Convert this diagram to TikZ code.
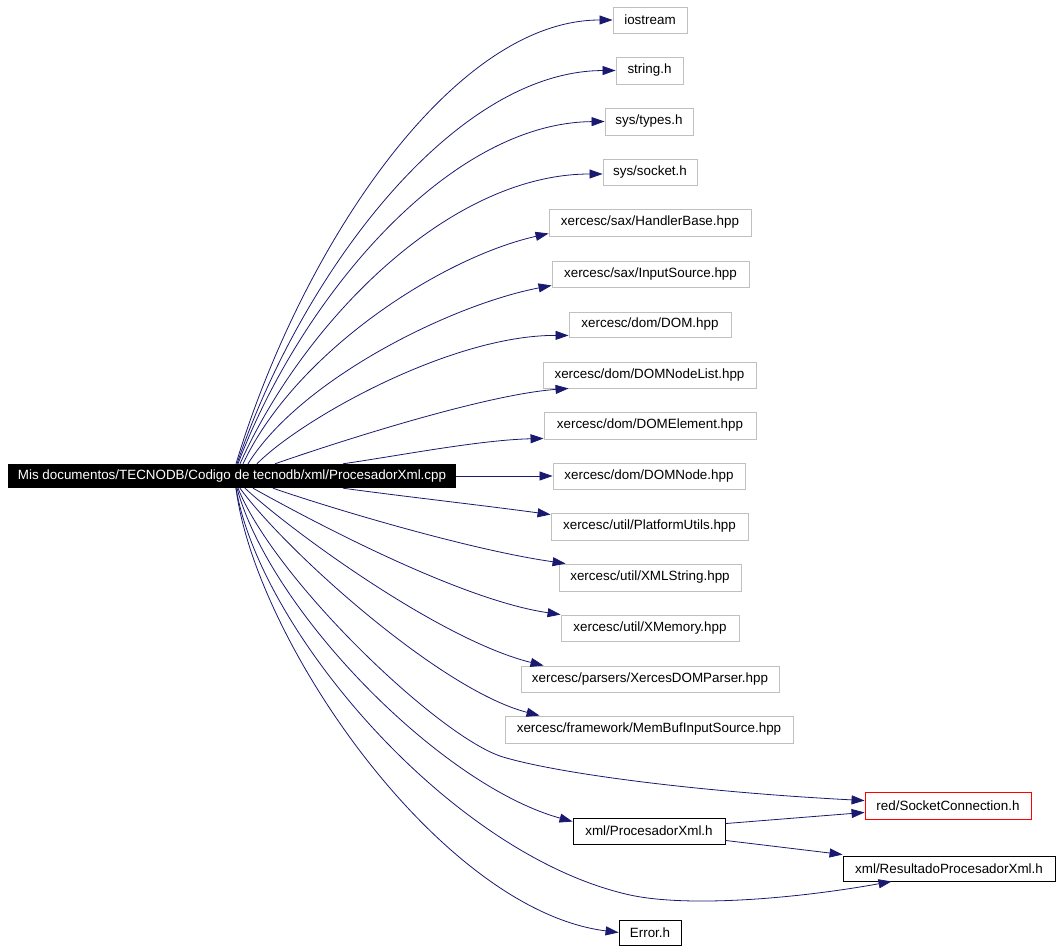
\documentclass[tikz,border=0pt]{standalone}
\usepackage{fontspec}
\setmainfont{Liberation Sans}
\usetikzlibrary{arrows.meta}
\definecolor{edgeblue}{HTML}{191970}
\definecolor{boxgray}{HTML}{C0C0C0}
\tikzset{
  hdr/.style={draw=boxgray, line width=0.9pt, fill=white, inner sep=0pt, align=center, font=\fontsize{13.4}{15}\selectfont},
  hdrblack/.style={hdr, draw=black},
  hdrred/.style={hdr, draw=red},
  mainbox/.style={fill=black, text=white, inner sep=0pt, minimum width=448pt, minimum height=24pt, font=\fontsize{13.4}{15}\selectfont},
  dep/.style={draw=edgeblue, line width=0.8pt, -{Triangle[length=13pt,width=9pt]}},
}
\begin{document}
\begin{tikzpicture}[x=1pt,y=-1pt]
\useasboundingbox (0,0) rectangle (1061,952);
\node[mainbox] (main) at (232,476) {Mis documentos/TECNODB/Codigo de tecnodb/xml/ProcesadorXml.cpp};
\node[hdr, minimum width=74pt, minimum height=26pt] (ios) at (650,20) {iostream};
\node[hdr, minimum width=67pt, minimum height=27pt] (str) at (649.5,70.5) {string.h};
\node[hdr, minimum width=88pt, minimum height=27pt] (typ) at (649,121.5) {sys/types.h};
\node[hdr, minimum width=94pt, minimum height=26pt] (sock) at (650,172) {sys/socket.h};
\node[hdr, minimum width=202pt, minimum height=27pt] (hb) at (650,222.5) {xercesc/sax/HandlerBase.hpp};
\node[hdr, minimum width=197pt, minimum height=26pt] (is) at (650.5,274) {xercesc/sax/InputSource.hpp};
\node[hdr, minimum width=162pt, minimum height=25pt] (dom) at (650,324.5) {xercesc/dom/DOM.hpp};
\node[hdr, minimum width=213pt, minimum height=26pt] (nl) at (649.5,375) {xercesc/dom/DOMNodeList.hpp};
\node[hdr, minimum width=212pt, minimum height=27pt] (de) at (650,425.5) {xercesc/dom/DOMElement.hpp};
\node[hdr, minimum width=192pt, minimum height=26pt] (dn) at (649,476) {xercesc/dom/DOMNode.hpp};
\node[hdr, minimum width=197pt, minimum height=27pt] (pu) at (649.5,526.5) {xercesc/util/PlatformUtils.hpp};
\node[hdr, minimum width=182pt, minimum height=27pt] (xs) at (650,577.5) {xercesc/util/XMLString.hpp};
\node[hdr, minimum width=178pt, minimum height=26pt] (xm) at (650,628) {xercesc/util/XMemory.hpp};
\node[hdr, minimum width=258pt, minimum height=26pt] (xp) at (650,679) {xercesc/parsers/XercesDOMParser.hpp};
\node[hdr, minimum width=288pt, minimum height=27pt] (mb) at (649,729.5) {xercesc/framework/MemBufInputSource.hpp};
\node[hdrred, minimum width=166pt, minimum height=27pt] (sc) at (948,805.5) {red/SocketConnection.h};
\node[hdrblack, minimum width=152pt, minimum height=26pt] (px) at (649,831) {xml/ProcesadorXml.h};
\node[hdrblack, minimum width=212pt, minimum height=25pt] (rx) at (949,868.5) {xml/ResultadoProcesadorXml.h};
\node[hdrblack, minimum width=62pt, minimum height=25pt] (er) at (650,932.5) {Error.h};
% upper fan
\draw[dep] ([xshift=4]main.north) .. controls (300,251) and (451,20) .. (ios.west);
\draw[dep] ([xshift=5]main.north) .. controls (301,275) and (453,71) .. (str.west);
\draw[dep] ([xshift=6]main.north) .. controls (300,300) and (447,123) .. (typ.west);
\draw[dep] ([xshift=8]main.north) .. controls (302,325) and (447,174) .. ([yshift=-2]sock.west);
\draw[dep] ([xshift=11]main.north) .. controls (295,353) and (440,258) .. ([yshift=3]hb.south west);
\draw[dep] ([xshift=16]main.north) .. controls (300,380) and (450,305) .. ([yshift=2]is.south west);
\draw[dep] ([xshift=25]main.north) .. controls (300,420) and (450,335) .. ([yshift=2]dom.south west);
\draw[dep] ([xshift=43]main.north) .. controls (320,448) and (480,395) .. ([xshift=26]nl.south west);
\draw[dep] ([xshift=111]main.north) .. controls (403,455) and (480,440) .. ([yshift=1]de.south west);
\draw[dep] (main.east) -- (dn.west);
% lower fan
\draw[dep] ([xshift=111]main.south) .. controls (400,496) and (480,505) .. ([yshift=-2]pu.north west);
\draw[dep] ([xshift=41]main.south) .. controls (330,508) and (470,550) .. ([xshift=7]xs.north west);
\draw[dep] ([xshift=21]main.south) .. controls (310,520) and (460,600) .. (xm.north west);
\draw[dep] ([xshift=13]main.south) .. controls (290,530) and (440,640) .. ([xshift=23]xp.north west);
\draw[dep] ([xshift=8]main.south) .. controls (285,550) and (440,690) .. ([xshift=35]mb.north west);
\draw[dep] ([xshift=6]main.south) .. controls (275,580) and (440,738) .. (503,757) .. controls (560,774) and (700,792) .. ([yshift=-9]sc.north west);
\draw[dep] ([xshift=5]main.south) .. controls (270,610) and (440,785) .. ([yshift=-4]px.north west);
\draw[dep] ([xshift=4]main.south) .. controls (260,630) and (450,855) .. (630,895) .. controls (690,908) and (800,898) .. ([xshift=49]rx.south west);
\draw[dep] ([xshift=4]main.south) .. controls (255,640) and (440,910) .. (er.west);
% from ProcesadorXml.h
\draw[dep] ([yshift=-6]px.north east) -- ([yshift=7]sc.south west);
\draw[dep] ([yshift=4]px.south east) -- ([yshift=1]rx.north west);
\end{tikzpicture}
\end{document}
